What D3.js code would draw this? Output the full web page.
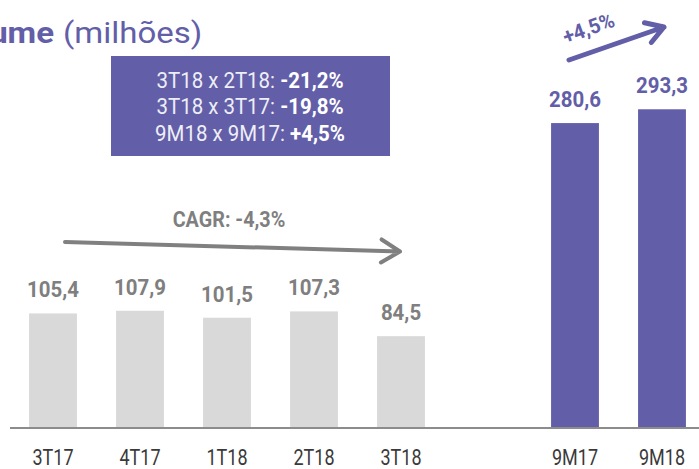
<!DOCTYPE html>
<html lang="pt">
<head>
<meta charset="UTF-8">
<title>Volume</title>
<script src="https://cdn.jsdelivr.net/npm/d3@7"></script>
<style>
    html, body { margin: 0; padding: 0; background: #fff; }
    svg { display: block; }
    text { font-family: Roboto, "Noto Sans", sans-serif; }
</style>
</head>
<body>
<div id="chart"></div>
<script>
    // quarterly volumes (grey) and 9-month totals (purple)
    var quarters = ["3T17", "4T17", "1T18", "2T18", "3T18"];
    var quarterValues = [105.4, 107.9, 101.5, 107.3, 84.5];
    var periods = ["9M17", "9M18"];
    var periodValues = [280.6, 293.3];

    // comparison box
    var compLabels = ["3T18 x 2T18: ", "3T18 x 3T17: ", "9M18 x 9M17: "];
    var compValues = ["-21,2%", "-19,8%", "+4,5%"];

    var cagrLabel = "CAGR: -4,3%";
    var growthLabel = "+4,5%";

    var width = 699, height = 469;
    var purple = "#625ea8";
    var greyText = "#7f7f7f";

    var svg = d3.select("#chart").append("svg")
        .attr("width", width)
        .attr("height", height);

    var data = quarters.map(function(q, i) { return {cat: q, value: quarterValues[i], kind: "q"}; })
        .concat(periods.map(function(p, i) { return {cat: p, value: periodValues[i], kind: "p"}; }));

    // one empty slot between the quarters and the 9M bars
    var x = d3.scaleBand()
        .domain(quarters.concat(["gap"], periods))
        .range([9.5, 705.5])
        .paddingInner(0.45)
        .paddingOuter(0.225);

    var y = d3.scaleLinear()
        .domain([0, 300])
        .range([428, 102]);

    function cx(c) { return x(c) + x.bandwidth() / 2; }

    // bars
    svg.selectAll(".bar")
        .data(data)
        .join("rect")
        .attr("class", "bar")
        .attr("x", d => x(d.cat))
        .attr("width", x.bandwidth())
        .attr("y", d => y(d.value))
        .attr("height", d => y(0) - y(d.value))
        .attr("fill", d => d.kind == "q" ? "#d9d9d9" : purple);

    // baseline
    svg.append("line")
        .attr("x1", 10).attr("x2", width)
        .attr("y1", y(0)).attr("y2", y(0))
        .attr("stroke", "#8c8c8c")
        .attr("stroke-width", 2);

    // value labels
    svg.selectAll(".val")
        .data(data)
        .join("text")
        .attr("class", "val")
        .attr("text-anchor", "middle")
        .attr("transform", d => "translate(" + cx(d.cat) + "," + (y(d.value) - 16) + ") scale(0.93,1)")
        .attr("font-size", 22)
        .attr("font-weight", "bold")
        .attr("fill", d => d.kind == "q" ? greyText : purple)
        .text(d => d3.format(".1f")(d.value).replace(".", ","));

    // category labels
    svg.selectAll(".cat")
        .data(data)
        .join("text")
        .attr("class", "cat")
        .attr("text-anchor", "middle")
        .attr("transform", d => "translate(" + cx(d.cat) + ",464.5) scale(0.8,1)")
        .attr("font-size", 22.5)
        .attr("fill", "#3a3a3a")
        .text(d => d.cat);

    // title (left part cut by the frame)
    svg.append("text")
        .attr("transform", "translate(54,43) scale(1.1,1)")
        .attr("text-anchor", "end")
        .attr("font-family", "'Open Sans', sans-serif")
        .attr("font-size", 30)
        .attr("font-weight", "bold")
        .attr("fill", purple)
        .text("Volume");
    svg.append("text")
        .attr("transform", "translate(63,43) scale(1.1,1)")
        .attr("font-family", "'Open Sans', sans-serif")
        .attr("font-size", 30)
        .attr("fill", purple)
        .text("(milhões)");

    // comparison box
    svg.append("rect")
        .attr("x", 111).attr("y", 56)
        .attr("width", 279).attr("height", 100)
        .attr("fill", purple);

    var lines = svg.selectAll(".comp")
        .data(compLabels)
        .join("text")
        .attr("class", "comp")
        .attr("text-anchor", "middle")
        .attr("transform", (d, i) => "translate(250," + (87.5 + i * 26.5) + ") scale(0.93,1)")
        .attr("font-size", 22)
        .attr("fill", "#eeeef6");
    lines.append("tspan").text(d => d);
    lines.append("tspan")
        .attr("font-weight", "bold")
        .attr("fill", "#fff")
        .text((d, i) => compValues[i]);

    // arrows
    function arrow(x1, y1, x2, y2, color, w, head) {
        var a = Math.atan2(y2 - y1, x2 - x1);
        var s = 0.55;
        var p = d3.path();
        p.moveTo(x1, y1);
        p.lineTo(x2, y2);
        p.moveTo(x2 - head * Math.cos(a - s), y2 - head * Math.sin(a - s));
        p.lineTo(x2, y2);
        p.lineTo(x2 - head * Math.cos(a + s), y2 - head * Math.sin(a + s));
        svg.append("path")
            .attr("d", p.toString())
            .attr("fill", "none")
            .attr("stroke", color)
            .attr("stroke-width", w)
            .attr("stroke-linecap", "round")
            .attr("stroke-linejoin", "round");
    }

    arrow(cx(quarters[0]) + 12, 242, cx(quarters[4]) - 1, 251.5, "#808080", 4, 22);
    arrow(cx(periods[0]) - 6, 60, cx(periods[1]) + 2, 27, purple, 5, 20);

    svg.append("text")
        .attr("text-anchor", "middle")
        .attr("transform", "translate(229,227) scale(0.9,1)")
        .attr("font-size", 22)
        .attr("font-weight", "bold")
        .attr("fill", greyText)
        .text(cagrLabel);

    svg.append("text")
        .attr("text-anchor", "middle")
        .attr("transform", "translate(591,35) rotate(-20) scale(0.95,1)")
        .attr("font-size", 21)
        .attr("font-weight", "bold")
        .attr("fill", purple)
        .text(growthLabel);
</script>
</body>
</html>
